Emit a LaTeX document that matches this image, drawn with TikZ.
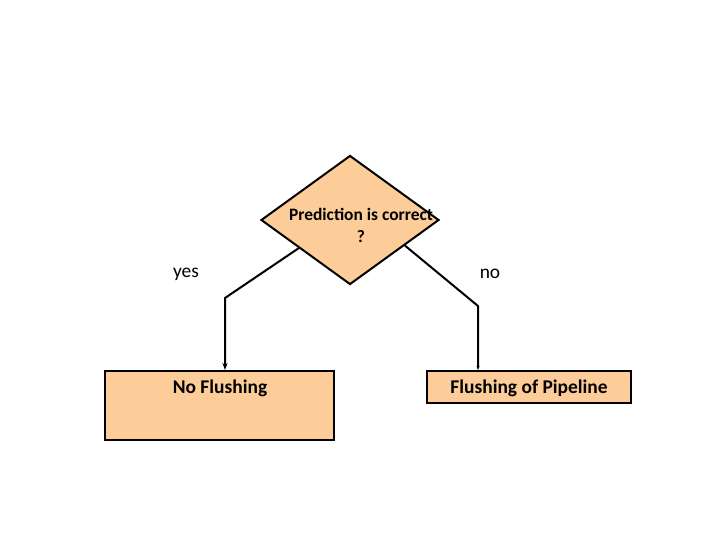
\documentclass[tikz,border=0pt]{standalone}
\usepackage{fontspec}
\setmainfont{Carlito}
\usetikzlibrary{shapes.geometric,calc,arrows.meta}

\begin{document}
\begin{tikzpicture}[x=1bp,y=-1bp,
  decision/.style={diamond,draw=black,line width=2bp,fill=boxfill,inner sep=0pt,minimum width=178bp,minimum height=129bp},
  outbox/.style={rectangle,draw=black,line width=2bp,fill=boxfill,inner sep=0pt},
  lbl/.style={font=\fontsize{19.5}{21}\selectfont\bfseries,align=center,inner sep=0pt},
  conn/.style={line width=2bp},
  ]
\definecolor{boxfill}{RGB}{252,204,153}
\useasboundingbox (0,0) rectangle (720,540);
% decision
\node[decision] (dec) at (350,220) {};
\node[lbl,font=\fontsize{17.5}{22}\selectfont\bfseries] (qtext) at (361,225) {Prediction is correct\\?};
% outcomes
\node[outbox,minimum width=229bp,minimum height=69bp] (noflush) at (219.5,405.5) {};
\node[lbl] (noflushtxt) at (220,388) {No Flushing};
\node[outbox,minimum width=204bp,minimum height=32bp] (flush) at (529,387) {};
\node[lbl] (flushtxt) at ([yshift=-1bp]flush.center) {Flushing of Pipeline};
% connectors
\coordinate (ystart) at ($(dec.west)!0.43!(dec.south)$);
\coordinate (ybend) at (225,298);
\coordinate (nstart) at ($(dec.east)!0.39!(dec.south)$);
\coordinate (nbend) at (478,306);
\draw[conn,-{Stealth[length=7bp,width=5bp]}] (ystart) -- (ybend) -- (ybend |- noflush.north);
\draw[conn,-{Stealth[length=4bp,width=3bp]}] (nstart) -- (nbend) -- (nbend |- flush.north);
\node[lbl,font=\fontsize{19.5}{21}\selectfont] (yes) at (186,274) {yes};
\node[lbl,font=\fontsize{19.5}{21}\selectfont] (no) at (490,274) {no};
\end{tikzpicture}
\end{document}
